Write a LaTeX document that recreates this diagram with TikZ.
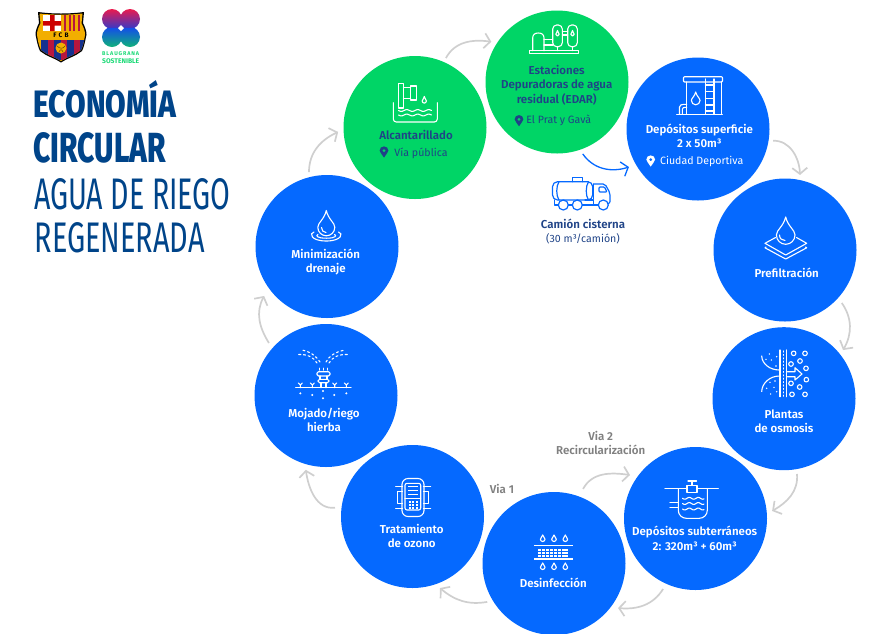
\documentclass[tikz,border=0pt]{standalone}
\usepackage{fontspec}
\usetikzlibrary{arrows.meta,calc}
\setmainfont{Fira Sans}
\newfontfamily\fsb{Fira Sans SemiBold}
\newfontfamily\fsx{Fira Sans}
\newfontfamily\fsk{Fira Sans ExtraBold}
\definecolor{cblue}{HTML}{0569FF}
\definecolor{cgreen}{HTML}{00D566}
\definecolor{cnavy}{HTML}{1F4387}
\definecolor{ctitle}{HTML}{004489}
\definecolor{cgray}{HTML}{CFCFCF}
\definecolor{ctxt}{HTML}{808080}
\definecolor{cred}{HTML}{B8173F}
\definecolor{cbl}{HTML}{14318F}
\definecolor{cgold}{HTML}{F2AE00}
\definecolor{lgtop}{HTML}{EA1A4E}
\definecolor{lgmid}{HTML}{3B38C4}
\definecolor{lgblue}{HTML}{1450E6}
\definecolor{lgbot}{HTML}{0FB27A}
\tikzset{
  bub/.style={circle,minimum size=143pt,inner sep=0pt,outer sep=0pt,draw=none},
  bb/.style={bub,fill=cblue},
  bg/.style={bub,fill=cgreen},
  flow/.style={draw=cgray,line width=1.7pt,-{Straight Barb[length=6pt,width=15pt,line width=1.7pt]}},
  flowb/.style={draw=cblue,line width=1.3pt,-{Straight Barb[length=6pt,width=15pt,line width=1.3pt]}},
  lab/.style={inner sep=0pt,align=center,text=white,font=\fontsize{11.5}{14.4}\selectfont\fsb},
  labn/.style={lab,text=cnavy},
  loc/.style={inner sep=0pt,font=\fontsize{10.6}{13}\selectfont\fsx},
  ttl/.style={inner sep=0pt,anchor=base west,text=ctitle},
  ico/.style={draw=white,line width=1.1pt,line join=round,line cap=round},
  icb/.style={draw=cblue,line width=1.2pt,line join=round,line cap=round},
}
\newcommand\dropic[5][ico]{% cx cy r top
  \draw[#1] (#2,#5) .. controls ({#2+0.25*#4},{#3-0.9*#4}) and ({#2+#4},{#3-0.55*#4}) .. ({#2+#4},#3)
    .. controls ({#2+#4},{#3+0.55*#4}) and ({#2+0.55*#4},{#3+#4}) .. (#2,{#3+#4})
    .. controls ({#2-0.55*#4},{#3+#4}) and ({#2-#4},{#3+0.55*#4}) .. ({#2-#4},#3)
    .. controls ({#2-#4},{#3-0.55*#4}) and ({#2-0.25*#4},{#3-0.9*#4}) .. cycle;}
\newcommand\pinic[3]{%
  \fill[#3,even odd rule] (#1,{#2+5.6}) .. controls ({#1-1.5},{#2+2.5}) and ({#1-4.4},{#2+0.6}) .. ({#1-4.4},{#2-1.4})
    .. controls ({#1-4.4},{#2-4}) and ({#1-2.4},{#2-5.6}) .. (#1,{#2-5.6})
    .. controls ({#1+2.4},{#2-5.6}) and ({#1+4.4},{#2-4}) .. ({#1+4.4},{#2-1.4})
    .. controls ({#1+4.4},{#2+0.6}) and ({#1+1.5},{#2+2.5}) .. (#1,{#2+5.6}) -- cycle
    (#1,{#2-1.4}) circle[radius=1.7pt];}
\newcommand\wave[4]{% x0 x1 y period
  \draw[ico] plot[domain=#1:#2,samples=36,smooth,variable=\t] (\t,{#3+0.9*sin(360*(\t-#1)/#4)});}
\begin{document}
\begin{tikzpicture}[x=1pt,y=-1pt]
\useasboundingbox (0,0) rectangle (879,633);
% ---------- circles
\node[bb] (min) at (327,246.5) {};
\node[bb] (moj) at (326,395.5) {};
\node[bb] (tra) at (412.5,516.5) {};
\node[bb] (des) at (554,563.5) {};
\node[bb] (sub) at (695.5,518.5) {};
\node[bb] (osm) at (784,398.7) {};
\node[bb] (pre) at (785,250) {};
\node[bb] (sup) at (698,129) {};
\node[bg] (alc) at (415,127.5) {};
\node[bg] (est) at (557,82) {};
% ---------- connectors (y axis is flipped, so polar angles are negated)
\draw[flow] ($(alc)+(-66:76)$) to[out=62,in=172] ($(est)+(-148.5:77)$);
\draw[flowb] ($(est)+(70.3:76.4)$) to[out=-55,in=198] ($(sup)+(-208.8:78.8)$);
\draw[flow] ($(sup)+(8.9:76)$) to[out=2,in=92] ($(pre)+(-78.7:76.5)$);
\draw[flow] ($(pre)+(43:77.6)$) to[out=-55,in=60] ($(osm)+(-39.5:76.5)$);
\draw[flow] ($(osm)+(80.2:76.4)$) to[out=-85,in=30] ($(sub)+(-5.6:77)$);
\draw[flow] ($(sub)+(-245.3:77.6)$) to[out=238,in=-5] ($(des)+(34.8:78)$);
\draw[flow] ($(des)+(-209.9:77)$) to[out=190,in=-40] ($(tra)+(69:76.6)$);
\draw[flow] ($(des)+(-68.7:80)$) to[out=62,in=172] ($(sub)+(-146.4:78.6)$);
\draw[flow] ($(tra)+(-173.5:78)$) to[out=187,in=-82] ($(moj)+(-254.8:77)$);
\draw[flow] ($(moj)+(-137.4:77.5)$) to[out=122,in=242] ($(min)+(-218.2:80)$);
\draw[flow] ($(min)+(-103.6:76.6)$) to[out=90,in=205] ($(alc)+(-183.3:77)$);
% ---------- title
\node[ttl] (t1) at (33.5,117) {\resizebox{142.5pt}{37pt}{\fontsize{40}{40}\fsk ECONOMÍA}};
\node[ttl] (t2) at (33.5,162) {\resizebox{132pt}{30pt}{\fontsize{40}{40}\fsk CIRCULAR}};
\node[ttl] (t3) at (34,209.5) {\resizebox{196.5pt}{31pt}{\fontsize{40}{40}\fsx AGUA DE RIEGO}};
\node[ttl] (t4) at (34.5,252.5) {\resizebox{170pt}{30pt}{\fontsize{40}{40}\fsx REGENERADA}};
% ---------- labels
\node[labn] (l1) at (556.7,85) {Estaciones\\Depuradoras de agua\\residual (EDAR)};
\node[loc,text=cnavy] (l1b) at (558.7,120.5) {El Prat y Gavà};
\node[labn] (l2) at (416,135) {Alcantarillado};
\node[loc,text=cnavy] (l2b) at (421,153.5) {Vía pública};
\node[lab] (l3) at (699.3,136) {Depósitos superficie\\2 x 50m³};
\node[loc,text=white] (l3b) at (701.7,161.5) {Ciudad Deportiva};
\node[lab] (l4) at (786.7,273) {Prefiltración};
\node[lab] (l5) at (784,421) {Plantas\\de osmosis};
\node[lab] (l6) at (694.7,538.5) {Depósitos subterráneos\\2: 320m³ + 60m³};
\node[lab] (l7) at (553.3,582.7) {Desinfección};
\node[lab] (l8) at (411.7,536) {Tratamiento\\de ozono};
\node[lab] (l9) at (324,420) {Mojado/riego\\hierba};
\node[lab] (l10) at (325.7,262) {Minimización\\drenaje};
\node[labn] (l11) at (583,224) {Camión cisterna};
\node[loc,text=cnavy] (l11b) at (583,239) {(30 m³/camión)};
\node[lab,text=ctxt] (v2) at (600.7,443) {Via 2\\Recircularización};
\node[lab,text=ctxt] (v1) at (502,489) {Via 1};
% ---------- pins
\pinic{519}{120.7}{cnavy}
\pinic{384}{152}{cnavy}
\pinic{650.7}{161}{white}
% ---------- icon EDAR
\draw[ico] (529.5,50.7) rectangle (578.5,53.3);
\draw[ico] (532.7,50.7) -- (532.7,38) .. controls (532.7,34.5) and (535,33) .. (538.3,33) .. controls (541.7,33) and (544,34.5) .. (544,38) -- (544,50.7);
\draw[ico] (544,39.5) -- (552.7,39.5) (544,45) -- (552.7,45);
\draw[ico,rounded corners=4pt] (552.7,25) rectangle (562.3,46.7);
\draw[ico,rounded corners=4pt] (567.7,25) rectangle (577.3,46.7);
\draw[ico] (557.5,46.7) -- (557.5,50.7) (572.5,46.7) -- (572.5,50.7);
\draw[ico] (562.3,31.5) -- (567.7,31.5) (562.3,35) -- (567.7,35);
\dropic{557.5}{34.3}{1.7}{30.5}
\dropic{572.5}{34.3}{1.7}{30.5}
% ---------- icon Alcantarillado
\draw[ico,rounded corners=3pt] (393.3,102.7) -- (393.3,122) -- (437.3,122) -- (437.3,102.7);
\draw[ico] (398.3,83.3) rectangle (403.3,108);
\draw[ico] (403.3,87.5) -- (410.7,87.5) (403.3,98.3) -- (410.7,98.3);
\draw[ico] (410.7,86) rectangle (416.7,100);
\dropic{424.3}{101}{2.1}{96.5}
\wave{398.5}{431.5}{110.5}{11}
\wave{398.5}{431.5}{115}{11}
% ---------- icon Dep superficie
\draw[ico,rounded corners=1pt] (683.5,76.7) rectangle (722.5,82);
\draw[ico] (686.7,82) -- (686.7,114.3) (721.7,82) -- (721.7,114.3);
\draw[ico] (676.7,114.3) -- (722.3,114.3);
\draw[ico] (705.3,79) -- (705.3,114.3) (714,79) -- (714,114.3);
\foreach \yy in {85,91.7,98.3,105,111} \draw[ico] (705.3,\yy) -- (714,\yy);
\dropic{695.7}{100.5}{4.3}{92}
\draw[ico] (679.5,114.3) -- (679.5,107) .. controls (679.5,105) and (681,104.3) .. (686.7,104.3);
\draw[ico] (682.4,114.3) -- (682.4,109) .. controls (682.4,108) and (683.5,107.3) .. (686.7,107.3);
% ---------- truck
\draw[icb,rounded corners=5pt] (552.5,181.7) rectangle (592.7,200);
\draw[icb] (572.7,181.7) -- (572.7,177.3) -- (582.3,177.3) -- (582.3,181.7);
\draw[icb] (559,181.7) .. controls (556,186) and (556,196) .. (559,200);
\draw[icb] (588.5,181.7) .. controls (585.5,186) and (585.5,196) .. (588.5,200);
\draw[icb] (593.7,184) -- (593.7,199);
\draw[icb,rounded corners=2pt] (593.7,184) -- (605,184) -- (610,193) -- (610,203.5) -- (608.5,203.5);
\draw[icb,rounded corners=1pt] (599,187) -- (604.5,187) -- (607,192) -- (599,192) -- cycle;
\draw[icb] (554.5,200) -- (554.5,205) -- (558.3,205);
\draw[icb] (568.3,205) -- (572.3,205) (582.3,205) -- (598.3,205);
\draw[icb] (585,200) -- (593.7,200) -- (593.7,205);
\draw[icb] (563.3,205) circle[radius=5pt] (577.3,205) circle[radius=5pt] (603.3,205) circle[radius=5pt];
% ---------- icon Prefiltracion
\draw[ico] (775.5,237.5) -- (765,243.3) -- (785.7,255) -- (806.7,243.3) -- (796.5,237.5);
\draw[ico] (766,247) -- (765,247.8) -- (785.7,259) -- (806.7,247.8) -- (805.5,247);
\dropic{785.7}{235}{9.3}{217}
\draw[ico] (779.5,235) .. controls (779.5,238.5) and (782,240.5) .. (785,240.5);
% ---------- icon Osmosis
\draw[ico] (780,350) -- (780,396.7) (786.7,350) -- (786.7,396.7);
\draw[ico,dash pattern=on 1pt off 2.4pt] (783.3,351) -- (783.3,396.7);
\foreach \a/\b in {281/160,315/160,273/192,300/183,318/205,319/239,273/250,299/261,276/283,315/283}
  \draw[ico] ({700+\a/3},{300+\b/3}) circle[radius=2.3pt];
\draw[ico] (761.7,356) .. controls (762,364) and (770,370) .. (779.5,370);
\draw[ico] (761.7,391.5) .. controls (762,383) and (770,376) .. (779.5,376);
\foreach \a/\b in {208/162,198/178,214/180,230/170,228/198,225/243,210/247,200/265,222/262,212/282,230/275}
  \fill[white] ({700+\a/3},{300+\b/3}) circle[radius=0.8pt];
\draw[ico] (787.5,371.7) -- (795,371.7) -- (795,367.7) -- (802,374) -- (795,380) -- (795,376.7) -- (787.5,376.7);
% ---------- icon Dep subterraneos
\draw[ico] (665,488.7) -- (718.3,488.7);
\draw[ico,rounded corners=8pt] (678.3,488.7) -- (678.3,518.3) -- (707.3,518.3) -- (707.3,488.7);
\draw[ico,fill=cblue] (687,485.5) rectangle (697,492.3);
\draw[ico] (692,485.5) -- (692,481) (688,481) -- (696.5,481);
\wave{682.5}{704}{498.3}{9}
\wave{682.5}{704}{503.5}{9}
\wave{682.5}{704}{509}{9}
\draw[ico] (670,502.3) -- (678.3,502.3) (670,507.3) -- (678.3,507.3);
% ---------- icon Desinfeccion
\foreach \xx in {542.7,554,565.3} {\dropic{\xx}{539.2}{2.3}{535} \dropic{\xx}{567.2}{2.3}{563}}
\draw[ico,line cap=butt,line width=1.4pt] (534,545.7) -- (572.7,545.7) (534,559) -- (572.7,559);
\foreach \yy in {548.5,551.5,554.5} \foreach \xx in {538.3,542.2,546.1,549.9,553.8,557.7,561.5,565.4}
  \fill[white] (\xx,\yy) rectangle ({\xx+3},{\yy+2.4});
% ---------- icon Ozono
\draw[ico,rounded corners=6pt] (402,478.5) rectangle (424,516.5);
\draw[ico,rounded corners=2pt] (405,483.3) rectangle (420.7,510);
\draw[ico] (405,498.5) -- (420.7,498.5);
\foreach \yy in {486.7,490.5,494.3} \draw[ico,line width=1.5pt,line cap=butt] (408,\yy) -- (418,\yy);
\foreach \yy in {502,505,508} \foreach \xx in {408.5,412.2,415.9}
  \fill[white] (\xx,{\yy-1}) rectangle ({\xx+2.2},{\yy+1});
\draw[ico] (395.7,486.7) -- (402.5,486.7) (402.5,491.7) -- (397.7,491.7) -- (397.7,503.3) -- (402.5,503.3) (395.7,508.3) -- (402.5,508.3);
\draw[ico] (430.7,486.7) -- (423.5,486.7) (423.5,491.7) -- (428.7,491.7) -- (428.7,503.3) -- (423.5,503.3) (430.7,508.3) -- (423.5,508.3);
% ---------- icon Mojado
\draw[ico] (295.7,387.7) -- (351,387.7);
\draw[ico,rounded corners=1.5pt] (317,371.7) rectangle (330,376);
\draw[ico,rounded corners=1.5pt] (318,379.3) rectangle (329,382.7);
\draw[ico] (320,376) -- (320,379.3) (327,376) -- (327,379.3) (321,382.7) -- (321,387.7) (326,382.7) -- (326,387.7);
\foreach \xx in {300.3,312.3,334.7,346.3}
  \draw[ico] (\xx,387.7) -- (\xx,385) (\xx,385) -- ({\xx-2},383) (\xx,385) -- ({\xx+2},383);
\foreach \a/\b in {151/190,187/195,219/183,219/205,253/195,289/190}
  \fill[white] ({250+\a/3},{330+\b/3}) circle[radius=1.1pt];
\draw[ico,dash pattern=on 1.8pt off 2.2pt] (319.5,370) -- (319.5,367) (323.5,370) -- (323.5,367) (327.5,370) -- (327.5,367);
\draw[ico,dash pattern=on 2pt off 2.8pt] (317,363) .. controls (313,357) and (308,354) .. (297,354.5);
\draw[ico,dash pattern=on 2pt off 2.8pt] (320,362) .. controls (316,356) and (311,352) .. (302,350);
\draw[ico,dash pattern=on 2pt off 2.8pt] (326,362) .. controls (329,356) and (335,352) .. (345,350);
\draw[ico,dash pattern=on 2pt off 2.8pt] (329,363) .. controls (333,357) and (338,354) .. (349,354.5);
% ---------- icon Minimizacion
\draw[ico] (314,232) .. controls (309,233) and (310.5,241) .. (326.3,241) .. controls (342,241) and (343.5,233) .. (338.5,232);
\draw[ico] (318,234.5) .. controls (315.5,235.5) and (316.5,238.2) .. (326.3,238.2) .. controls (336,238.2) and (337,235.5) .. (334.5,234.5);
\dropic{326.3}{227.3}{8.5}{210.5}
\draw[ico] (321.5,227.5) .. controls (321.5,230.5) and (323.5,232.5) .. (326,232.5);
% ---------- logo Barca
\path[fill=black] (38,12) .. controls (52,14) and (70,14) .. (84,12) -- (83,23) .. controls (85,27) and (86.5,31) .. (86.5,34.5) .. controls (85,42) and (84,47) .. (82,51) .. controls (76,56) and (68,58) .. (61,62.5) .. controls (54,58) and (46,56) .. (40,51) .. controls (38,47) and (37,42) .. (35.5,34.5) .. controls (35.5,31) and (37,27) .. (39,23) -- cycle;
\begin{scope}
\clip (39.5,13.5) .. controls (52,15) and (70,15) .. (82.5,13.5) -- (81.5,23.5) .. controls (83.5,27) and (85,31) .. (85,34.5) .. controls (84,42) and (83,46) .. (81,50) .. controls (75,55) and (67,57) .. (61,61) .. controls (55,57) and (47,55) .. (41,50) .. controls (39,46) and (38,42) .. (37,34.5) .. controls (37,31) and (38.5,27) .. (40.5,23.5) -- cycle;
\fill[cgold] (30,5) rectangle (92,70);
\fill[white] (43,15) rectangle (61,31);
\fill[red!80!black] (50,15) rectangle (54.5,31) (43,21) rectangle (61,25.5);
\foreach \xx in {64,68.5,73,77.5} \fill[cred] (\xx,15) rectangle ({\xx+2.4},31);
\foreach \xx in {41,54,67,80} \fill[cbl] (\xx,39.5) rectangle ({\xx+6.5},60);
\foreach \xx in {47.5,60.5,73.5} \fill[cred] (\xx,39.5) rectangle ({\xx+6.5},60);
\end{scope}
\node[inner sep=0pt,text=black,font=\fontsize{6.5}{7}\selectfont\fsx\bfseries] (fcb) at (61,35) {F\,\,C\,\,B};
\fill[cgold] (61,48) circle[radius=5.5pt];
\draw[black!60!cgold,line width=0.5pt] (57,46) .. controls (60,49) and (63,49) .. (65,46) (59,52) .. controls (60,49) and (62,49) .. (63,52);
% ---------- logo Blaugrana
\begin{scope}
\clip (112,19) circle[radius=10pt] (130,19) circle[radius=10pt] (112,37) circle[radius=10pt] (130,37) circle[radius=10pt] (113,22) rectangle (129,34);
\shade[top color=lgtop,bottom color=lgmid] (100,9) rectangle (142,28);
\shade[top color=lgblue,bottom color=lgbot] (100,28) rectangle (142,47);
\end{scope}
\fill[white] (121,25) -- (124,28) -- (121,31) -- (118,28) -- cycle;
\node[inner sep=0pt,anchor=base west,text=cgreen!90!white] (b1) at (102,55.5) {\resizebox{37pt}{!}{\fontsize{6}{7}\fsx\bfseries B\,L\,A\,U\,G\,R\,A\,N\,A}};
\node[inner sep=0pt,anchor=base west,text=cgreen!90!white] (b2) at (102,63.5) {\resizebox{37pt}{!}{\fontsize{6}{7}\fsx\bfseries SOSTENIBLE}};
\end{tikzpicture}
\end{document}
